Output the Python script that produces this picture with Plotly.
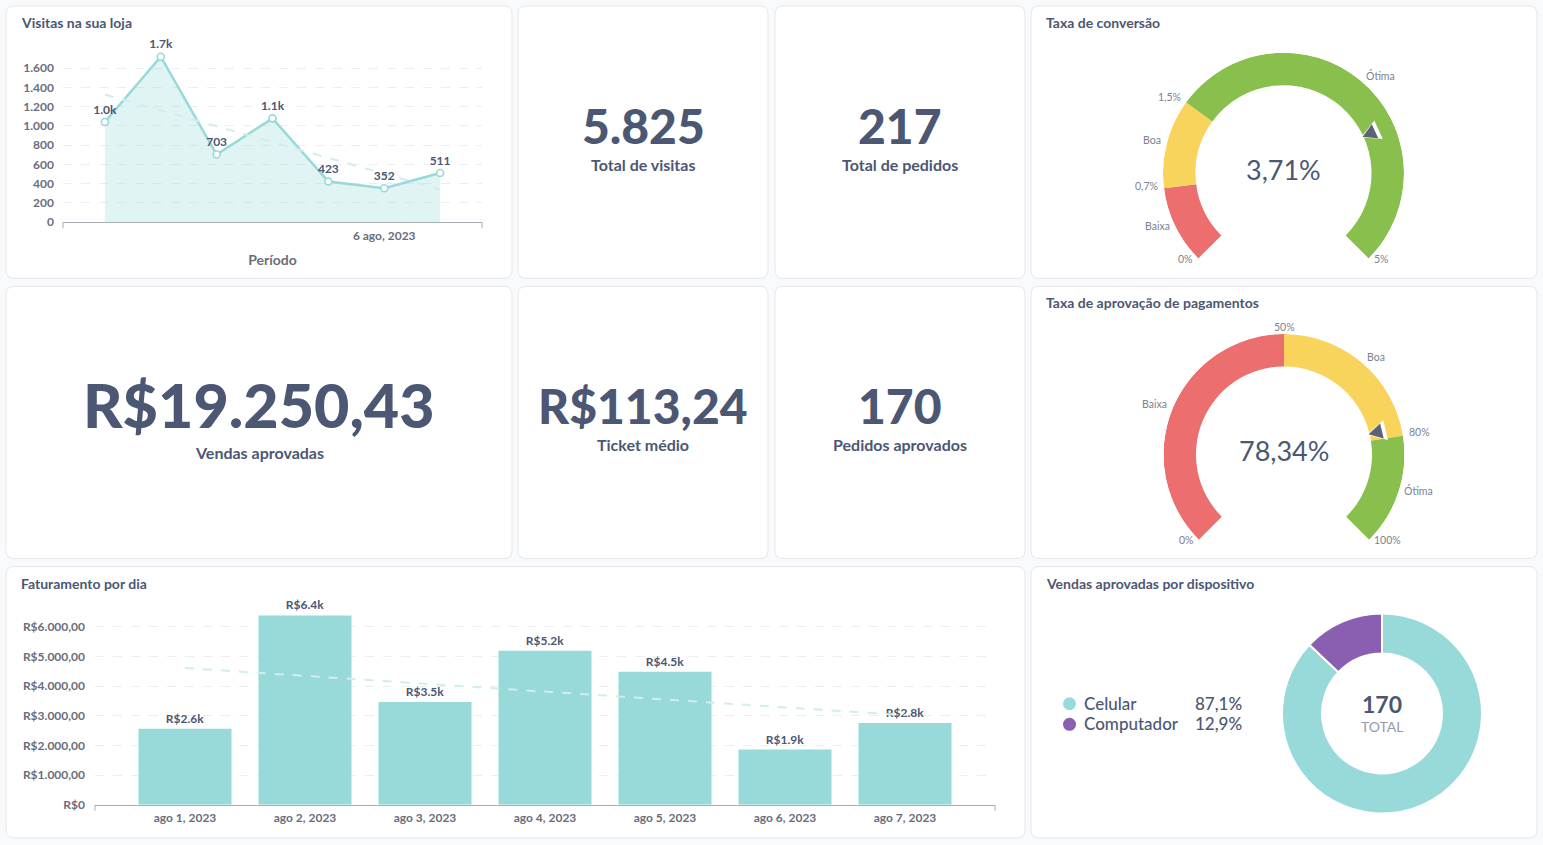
import numpy as np
import plotly.graph_objects as go

W, H = 1543, 845
H_MAP = 837.1   # the captured page is a little taller than the figure; compensate
FONT = "Lato, 'Open Sans', sans-serif"
DARK = "#4C5773"
MID = "#696E7B"
LIGHT = "#7C8293"
CYAN = "#98D9D9"
TREND = "#D3EDED"
GRID = "#ECEEF1"
AXIS = "#A9ADB5"
BG = "#F9FAFB"

# ---------------- data ----------------
visit_dates = ["2023-08-01", "2023-08-02", "2023-08-03", "2023-08-04",
               "2023-08-05", "2023-08-06", "2023-08-07"]
visits = [1040, 1718, 703, 1078, 423, 352, 511]
visit_ytick_vals = [0, 200, 400, 600, 800, 1000, 1200, 1400, 1600]
visit_ytick_text = ["0", "200", "400", "600", "800", "1.000", "1.200", "1.400", "1.600"]
visit_xtick_vals = ["2023-08-06"]
visit_xtick_text = ["6 ago, 2023"]

revenue_days = ["ago 1, 2023", "ago 2, 2023", "ago 3, 2023", "ago 4, 2023",
                "ago 5, 2023", "ago 6, 2023", "ago 7, 2023"]
revenue = [2560, 6380, 3460, 5190, 4480, 1860, 2760]
revenue_ytick_vals = [0, 1000, 2000, 3000, 4000, 5000, 6000]
revenue_ytick_text = ["R$0", "R$1.000,00", "R$2.000,00", "R$3.000,00",
                      "R$4.000,00", "R$5.000,00", "R$6.000,00"]

kpi_values = ["5.825", "217", "R$19.250,43", "R$113,24", "170"]
kpi_captions = ["Total de visitas", "Total de pedidos", "Vendas aprovadas",
                "Ticket médio", "Pedidos aprovados"]

conv_value = 3.71
conv_thresholds = [0, 0.7, 1.5, 5]
conv_threshold_labels = ["0%", "0,7%", "1,5%", "5%"]
appr_value = 78.34
appr_thresholds = [0, 50, 80, 100]
appr_threshold_labels = ["0%", "50%", "80%", "100%"]
gauge_segments = ["Baixa", "Boa", "Ótima"]
gauge_colors = ["#ED6E6E", "#F9D45C", "#88BF4D"]

devices = ["Celular", "Computador"]
device_sales = [148, 22]
device_colors = ["#98D9D9", "#8A5EB0"]


# ---------------- helpers ----------------
def px(x):
    return x / W


def py(y):
    return 1 - y / H_MAP


def card_path(x0, y0, x1, y1, r=8):
    return (f"M {px(x0 + r)},{py(y0)} L {px(x1 - r)},{py(y0)} "
            f"Q {px(x1)},{py(y0)} {px(x1)},{py(y0 + r)} L {px(x1)},{py(y1 - r)} "
            f"Q {px(x1)},{py(y1)} {px(x1 - r)},{py(y1)} L {px(x0 + r)},{py(y1)} "
            f"Q {px(x0)},{py(y1)} {px(x0)},{py(y1 - r)} L {px(x0)},{py(y0 + r)} "
            f"Q {px(x0)},{py(y0)} {px(x0 + r)},{py(y0)} Z")


def ann(text, x, y, size, color=DARK, weight="normal", xanchor="center", yanchor="middle"):
    return dict(text=text, x=px(x), y=py(y), xref="paper", yref="paper", showarrow=False,
                font=dict(family=FONT, size=size, color=color, weight=weight),
                xanchor=xanchor, yanchor=yanchor)


def compact(v):
    return f"{v / 1000:.1f}k" if v >= 1000 else str(v)


def fmt_pct(v, d=2):
    return f"{v:.{d}f}".replace(".", ",") + "%"


fig = go.Figure()
shapes = []
annotations = []

# ---------------- cards ----------------
cards = [(6, 6, 512, 278), (518, 6, 768, 278), (775, 6, 1025, 278), (1031, 6, 1537, 278),
         (6, 286, 512, 558), (518, 286, 768, 558), (775, 286, 1025, 558), (1031, 286, 1537, 558),
         (6, 566, 1025, 837), (1031, 566, 1537, 837)]
for c in cards:
    shapes.append(dict(type="path", path=card_path(*c), xref="paper", yref="paper",
                       fillcolor="white", line=dict(color="#E4E7EC", width=1), layer="below"))

titles = [("Visitas na sua loja", 19, 22.5), ("Taxa de conversão", 1044, 22.5),
          ("Taxa de aprovação de pagamentos", 1044, 302.5), ("Faturamento por dia", 19, 582.5),
          ("Vendas aprovadas por dispositivo", 1044, 582.5)]
for t, x, y in titles:
    annotations.append(ann(t, x, y, 14, DARK, "bold", xanchor="left"))

# ---------------- line chart: visits ----------------
xi = np.arange(len(visits))
slope, icpt = np.polyfit(xi, visits, 1)
visit_trend = slope * xi + icpt

fig.add_trace(go.Scatter(x=visit_dates, y=visits, mode="lines", fill="tozeroy",
                         fillcolor="rgba(152,217,217,0.3)", line=dict(color=CYAN, width=2.5),
                         xaxis="x", yaxis="y", hoverinfo="skip", showlegend=False))
fig.add_trace(go.Scatter(x=visit_dates, y=visit_trend, mode="lines",
                         line=dict(color=TREND, width=2, dash="dash"),
                         xaxis="x", yaxis="y", hoverinfo="skip", showlegend=False))
fig.add_trace(go.Scatter(x=visit_dates, y=visits, mode="markers+text",
                         text=[compact(v) for v in visits], textposition="top center",
                         textfont=dict(family=FONT, size=12, color=DARK, weight="bold"),
                         marker=dict(size=7, color="white", line=dict(color=CYAN, width=1.6)),
                         cliponaxis=False, xaxis="x", yaxis="y", showlegend=False))

# ---------------- bar chart: revenue ----------------
bi = np.arange(len(revenue))
bslope, bicpt = np.polyfit(bi, revenue, 1)
revenue_trend = bslope * bi + bicpt

fig.add_trace(go.Bar(x=revenue_days, y=revenue, marker=dict(color=CYAN, line=dict(width=0)),
                     width=0.775, text=["R$" + compact(v) for v in revenue],
                     textposition="outside", cliponaxis=False,
                     textfont=dict(family=FONT, size=12, color=DARK, weight="bold"),
                     xaxis="x2", yaxis="y2", showlegend=False))
fig.add_trace(go.Scatter(x=revenue_days, y=revenue_trend, mode="lines",
                         line=dict(color=TREND, width=2, dash="dash"),
                         xaxis="x2", yaxis="y2", hoverinfo="skip", showlegend=False))

tickfont = dict(family=FONT, size=12, color=MID, weight="bold")
layout_axes = dict(
    xaxis=dict(domain=[px(63), px(482)], anchor="y", type="category", range=[-0.75, 6.75],
               tickvals=visit_xtick_vals, ticktext=visit_xtick_text, showgrid=False,
               zeroline=False, showline=True, linecolor=AXIS, linewidth=1, ticks="",
               tickfont=tickfont, ticklabelstandoff=2,
               title=dict(text="Período", font=dict(family=FONT, size=14, color=MID, weight="bold"),
                          standoff=13)),
    yaxis=dict(domain=[py(222), py(48.75)], anchor="x", range=[0, 1800],
               tickvals=visit_ytick_vals, ticktext=visit_ytick_text, showgrid=True,
               gridcolor=GRID, griddash="dash", zeroline=False, showline=False,
               tickfont=tickfont, ticks="", ticklabelstandoff=8),
    xaxis2=dict(domain=[px(95), px(995)], anchor="y2", type="category", range=[-0.75, 6.75],
                showgrid=False, zeroline=False, showline=True, linecolor=AXIS, linewidth=1,
                ticks="", tickfont=tickfont, ticklabelstandoff=2),
    yaxis2=dict(domain=[py(804), py(608.2)], anchor="x2", range=[0, 6600],
                tickvals=revenue_ytick_vals, ticktext=revenue_ytick_text, showgrid=True,
                gridcolor=GRID, griddash="dash", zeroline=False, showline=False,
                tickfont=tickfont, ticks="", ticklabelstandoff=9),
)

# axis end ticks
for xr, yr in (("x domain", "y domain"), ("x2 domain", "y2 domain")):
    for xv in (0, 1):
        shapes.append(dict(type="line", xref=xr, yref=yr, x0=xv, x1=xv, ysizemode="pixel",
                           yanchor=0, y0=0, y1=-6, line=dict(color=AXIS, width=1)))

# ---------------- KPI numbers ----------------
kpi_pos = [(643, 125, 164, 48), (900, 125, 164, 48), (259, 404.5, 452, 61),
           (643, 405, 444, 48), (900, 405, 444, 48)]
for val, cap, (cx, vy, cy, sz) in zip(kpi_values, kpi_captions, kpi_pos):
    annotations.append(ann(val, cx, vy, sz, DARK, 900))
    annotations.append(ann(cap, cx, cy, 16, DARK, "bold"))

# ---------------- gauges ----------------
R_OUT, R_IN = 120.5, 88.0


def to_angle(v, lo, hi):
    return -135 + 270 * (v - lo) / (hi - lo)


def add_gauge(polar_name, cx, cy, value, thresholds, th_labels, value_text):
    lo, hi = thresholds[0], thresholds[-1]
    a0 = [to_angle(t, lo, hi) for t in thresholds[:-1]]
    a1 = [to_angle(t, lo, hi) for t in thresholds[1:]]
    fig.add_trace(go.Barpolar(
        theta=[(s + e) / 2 for s, e in zip(a0, a1)], width=[e - s for s, e in zip(a0, a1)],
        base=[R_IN] * 3, r=[R_OUT - R_IN] * 3,
        marker=dict(color=gauge_colors, line=dict(width=0)),
        subplot=polar_name, hoverinfo="skip", showlegend=False))
    va = to_angle(value, lo, hi)
    # pointer: white halo + dark triangle pointing to the centre
    fig.add_trace(go.Scatterpolar(
        r=[85, 105, 105, 85], theta=[va, va - 5.5, va + 5.5, va], mode="lines",
        fill="toself", fillcolor="white", line=dict(width=0, color="white"),
        subplot=polar_name, hoverinfo="skip", showlegend=False))
    fig.add_trace(go.Scatterpolar(
        r=[87, 101, 101, 87], theta=[va, va - 4.4, va + 4.4, va], mode="lines",
        fill="toself", fillcolor="#5B6275", line=dict(width=0, color="#5B6275"),
        subplot=polar_name, hoverinfo="skip", showlegend=False))

    def place(text, ang):
        s, c = np.sin(np.deg2rad(ang)), np.cos(np.deg2rad(ang))
        if abs(s) < 0.15:
            r, xa, dy = R_OUT + 7, "center", 0
        else:
            r, xa, dy = R_OUT + 4, ("left" if s > 0 else "right"), -2.5
        annotations.append(ann(text, cx + r * s, cy - r * c + dy, 10.5, LIGHT, "normal",
                               xanchor=xa))

    for t, lab in zip(thresholds, th_labels):
        place(lab, to_angle(t, lo, hi))
    for s, e, name in zip(a0, a1, gauge_segments):
        place(name, (s + e) / 2)
    annotations.append(ann(value_text, cx, cy - 3.5, 27, DARK, "normal"))
    return dict(domain=dict(x=[px(cx - R_OUT), px(cx + R_OUT)], y=[py(cy + R_OUT), py(cy - R_OUT)]),
                bgcolor="rgba(0,0,0,0)",
                radialaxis=dict(range=[0, R_OUT], visible=False),
                angularaxis=dict(visible=False, rotation=90, direction="clockwise"))


polar1 = add_gauge("polar", 1283.5, 173, conv_value, conv_thresholds, conv_threshold_labels,
                   fmt_pct(conv_value))
polar2 = add_gauge("polar2", 1284, 454, appr_value, appr_thresholds, appr_threshold_labels,
                   fmt_pct(appr_value))

# ---------------- donut ----------------
dcx, dcy, dr = 1382, 712.7, 100
fig.add_trace(go.Pie(labels=devices, values=device_sales, hole=0.6, sort=False,
                     direction="clockwise", rotation=0,
                     marker=dict(colors=device_colors, line=dict(color="white", width=2)),
                     textinfo="none", hoverinfo="label+percent", showlegend=False,
                     domain=dict(x=[px(dcx - dr), px(dcx + dr)], y=[py(dcy + dr), py(dcy - dr)])))
total = sum(device_sales)
annotations.append(ann(str(total), dcx, 703.5, 23, DARK, "bold"))
annotations.append(ann("TOTAL", dcx, 726, 14, "#949AAB", "normal"))
for i, (d, v, col) in enumerate(zip(devices, device_sales, device_colors)):
    yy = 702.5 + 20.5 * i
    shapes.append(dict(type="circle", xref="paper", yref="paper", x0=px(1063), x1=px(1076),
                       y0=py(yy + 7), y1=py(yy - 6)), )
    shapes[-1].update(fillcolor=col, line=dict(width=0))
    annotations.append(ann(d, 1082, yy, 17, DARK, 500, xanchor="left"))
    annotations.append(ann(fmt_pct(100 * v / total, 1), 1244, yy, 17, DARK, 500, xanchor="right"))

fig.update_layout(
    width=W, height=H, margin=dict(l=0, r=0, t=0, b=0), autosize=False,
    paper_bgcolor=BG, plot_bgcolor="rgba(0,0,0,0)",
    font=dict(family=FONT, color=DARK),
    shapes=shapes, annotations=annotations, polar=polar1, polar2=polar2,
    bargap=0.2, hovermode="closest",
    **layout_axes,
)

fig.write_html("out.html", config={"displayModeBar": False},
               post_script=f"document.body.style.margin='0';"
                           f"document.body.style.background='{BG}';")
